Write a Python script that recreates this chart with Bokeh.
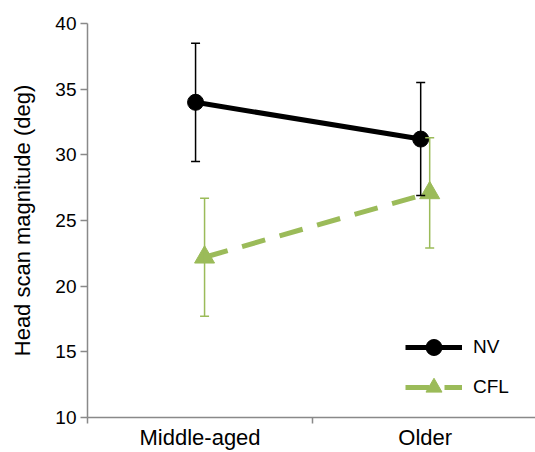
from bokeh.plotting import figure
from bokeh.models import (ColumnDataSource, FixedTicker, Range1d, Whisker, TeeHead,
                          Legend, LegendItem)
from bokeh.embed import file_html
from bokeh.resources import INLINE

categories = ["Middle-aged", "Older"]
cat_pos = [0.5, 1.5]
cat_bounds = [0, 1, 2]
nv_mean = [34.0, 31.2]
nv_err = [4.5, 4.3]
cfl_mean = [22.2, 27.1]
cfl_err = [4.5, 4.2]
y_ticks = [10, 15, 20, 25, 30, 35, 40]
offset = 0.02

FONT = "Liberation Sans"
GREEN = "#9BBB59"
AXIS = "#898989"

nv_x = [c - offset for c in cat_pos]
cfl_x = [c + offset for c in cat_pos]
nv_src = ColumnDataSource(dict(x=nv_x, y=nv_mean,
                               lo=[m - e for m, e in zip(nv_mean, nv_err)],
                               hi=[m + e for m, e in zip(nv_mean, nv_err)]))
cfl_src = ColumnDataSource(dict(x=cfl_x, y=cfl_mean,
                                lo=[m - e for m, e in zip(cfl_mean, cfl_err)],
                                hi=[m + e for m, e in zip(cfl_mean, cfl_err)]))

p = figure(width=535, height=452, output_backend="svg", toolbar_location=None,
           x_range=Range1d(0, 1.99), y_range=Range1d(10, 40),
           min_border_left=87, min_border_top=23, min_border_bottom=35, min_border_right=0)
p.outline_line_color = None
p.xgrid.visible = False
p.ygrid.visible = False
p.background_fill_color = "white"

# y axis
ya = p.yaxis[0]
ya.ticker = FixedTicker(ticks=y_ticks)
ya.axis_label = "Head scan magnitude (deg)"
ya.axis_label_text_font = FONT
ya.axis_label_text_font_size = "22px"
ya.axis_label_text_font_style = "normal"
ya.axis_label_text_color = "black"
ya.axis_label_standoff = 17
ya.major_label_text_font = FONT
ya.major_label_text_font_size = "19px"
ya.major_label_text_color = "black"
ya.major_label_standoff = 4
ya.major_tick_out = 7
ya.major_tick_in = 0
ya.minor_tick_out = 0
ya.minor_tick_in = 0
ya.axis_line_color = AXIS
ya.axis_line_width = 1.5
ya.major_tick_line_color = AXIS
ya.major_tick_line_width = 1.5

# x axis: labels at category centres, tick marks between categories
xa = p.xaxis[0]
xa.ticker = FixedTicker(ticks=cat_pos, minor_ticks=cat_bounds)
xa.major_label_overrides = {c: n for c, n in zip(cat_pos, categories)}
xa.major_label_text_font = FONT
xa.major_label_text_font_size = "22px"
xa.major_label_text_color = "black"
xa.major_label_standoff = 1
xa.major_tick_out = 0
xa.major_tick_in = 0
xa.minor_tick_out = 6
xa.minor_tick_in = 0
xa.axis_line_color = AXIS
xa.axis_line_width = 1.5
xa.minor_tick_line_color = AXIS
xa.minor_tick_line_width = 1.5

# error bars
p.add_layout(Whisker(source=nv_src, base="x", upper="hi", lower="lo", dimension="height",
                     line_color="black", line_width=1.5,
                     upper_head=TeeHead(size=9, line_color="black", line_width=1.5),
                     lower_head=TeeHead(size=9, line_color="black", line_width=1.5),
                     level="glyph"))
p.add_layout(Whisker(source=cfl_src, base="x", upper="hi", lower="lo", dimension="height",
                     line_color=GREEN, line_width=1.5,
                     upper_head=TeeHead(size=9, line_color=GREEN, line_width=1.5),
                     lower_head=TeeHead(size=9, line_color=GREEN, line_width=1.5),
                     level="glyph"))

nv_line = p.line("x", "y", source=nv_src, line_color="black", line_width=5)
nv_pts = p.scatter("x", "y", source=nv_src, marker="circle", size=16,
                   fill_color="black", line_color="black")
cfl_line = p.line("x", "y", source=cfl_src, line_color=GREEN, line_width=5,
                  line_dash="24 15")
cfl_pts = p.scatter("x", "y", source=cfl_src, marker="triangle", size=20,
                    fill_color=GREEN, line_color=GREEN)

legend = Legend(items=[LegendItem(label="NV", renderers=[nv_line, nv_pts]),
                       LegendItem(label="CFL", renderers=[cfl_line, cfl_pts])],
                location=(318, 10), orientation="vertical",
                glyph_width=57, glyph_height=40, label_height=40, spacing=0,
                label_standoff=11, padding=0, margin=0,
                border_line_color=None, background_fill_alpha=0,
                label_text_font=FONT, label_text_font_size="19px",
                label_text_color="black", label_text_baseline="middle")
p.add_layout(legend)

open("out.html", "w").write(file_html(p, INLINE))
